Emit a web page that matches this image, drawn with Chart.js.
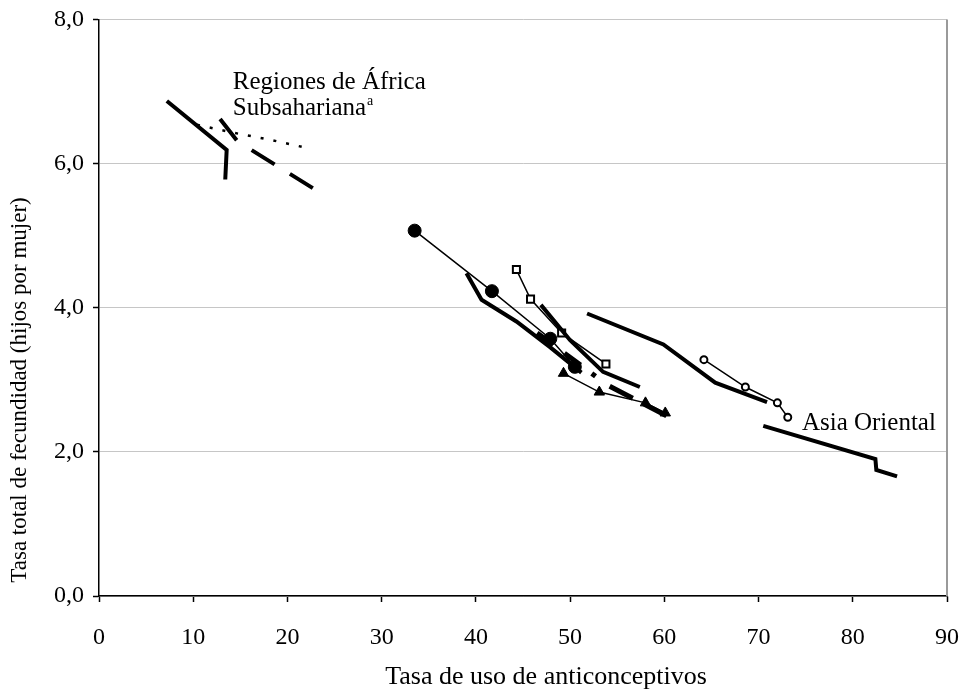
<!DOCTYPE html>
<html>
<head>
<meta charset="utf-8">
<script src="https://cdn.jsdelivr.net/npm/chart.js@4/dist/chart.umd.min.js"></script>
<style>
  html, body { margin: 0; padding: 0; background: #ffffff; }
  #wrap { width: 964px; height: 690px; }
</style>
</head>
<body>
<div id="wrap"><canvas id="c" width="964" height="690"></canvas></div>
<script>
// ---- Data ----
const xTitle = "Tasa de uso de anticonceptivos";
const yTitle = "Tasa total de fecundidad (hijos por mujer)";

// Sub-Saharan Africa regions
const africaSolidX  = [7.2, 13.55, 13.4];
const africaSolidY  = [6.87, 6.19, 5.78];
const africaDottedX = [10.4, 14.2, 18.2, 22.0];
const africaDottedY = [6.54, 6.43, 6.33, 6.22];
const africaDashedX = [12.85, 14.7, 22.7];
const africaDashedY = [6.62, 6.31, 5.66];

// Middle cluster
const circlesX   = [33.5, 41.7, 47.9, 50.5];
const circlesY   = [5.07, 4.23, 3.57, 3.18];
const squaresX   = [44.3, 45.8, 49.1, 53.8];
const squaresY   = [4.53, 4.12, 3.65, 3.22];
const trianglesX = [49.3, 53.1, 58.0, 60.1];
const trianglesY = [3.09, 2.83, 2.68, 2.54];
const thickAX    = [39.0, 40.6, 44.3, 47.9, 51.2];
const thickAY    = [4.48, 4.11, 3.81, 3.45, 3.10];
const thickBX    = [46.9, 50.0, 53.5, 57.4];
const thickBY    = [4.04, 3.55, 3.11, 2.90];
const dashedCX   = [46.5, 52.7];
const dashedCY   = [3.65, 3.05];
const dashedDX   = [54.2, 60.4];
const dashedDY   = [2.91, 2.49];

// East Asia cluster
const thickEX       = [51.8, 59.9, 65.4, 70.9];
const thickEY       = [3.92, 3.49, 2.96, 2.69];
const openCirclesX  = [64.2, 68.6, 72.0, 73.1];
const openCirclesY  = [3.28, 2.90, 2.68, 2.48];
const thickFX       = [70.5, 82.4, 82.5, 84.7];
const thickFY       = [2.36, 1.90, 1.75, 1.66];

// Annotations (data coordinates)
const labelAfrica1 = { text: "Regiones de África", x: 14.2, y: 7.03 };
const labelAfrica2 = { text: "Subsahariana", sup: "a", x: 14.2, y: 6.67 };
const labelAsia    = { text: "Asia Oriental", x: 74.6, y: 2.30 };

const xMin = 0, xMax = 90, xStep = 10;
const yMin = 0, yMax = 8, yStep = 2;

// ---- Build ----
function pts(xs, ys) { return xs.map((x, i) => ({ x: x, y: ys[i] })); }
const FONT = "'Liberation Serif', 'Times New Roman', serif";

function lineDS(xs, ys, width, dash, extra) {
  return Object.assign({
    data: pts(xs, ys),
    showLine: true,
    borderColor: '#000',
    backgroundColor: '#000',
    borderWidth: width,
    borderDash: dash || [],
    borderCapStyle: 'butt',
    borderJoinStyle: 'miter',
    pointRadius: 0,
    pointHoverRadius: 0,
    tension: 0
  }, extra || {});
}

const datasets = [
  lineDS(africaSolidX, africaSolidY, 4),
  lineDS(africaDottedX, africaDottedY, 2.5, [3, 10]),
  lineDS(africaDashedX, africaDashedY, 4, [27, 18]),
  lineDS(thickAX, thickAY, 4),
  lineDS(thickBX, thickBY, 4),
  lineDS(dashedCX, dashedCY, 5, [20, 14]),
  lineDS(dashedDX, dashedDY, 5, [26, 12]),
  lineDS(thickEX, thickEY, 4),
  lineDS(thickFX, thickFY, 4),
  lineDS(circlesX, circlesY, 1.5, [], { pointRadius: 6.5, pointStyle: 'circle', pointBackgroundColor: '#000', pointBorderColor: '#000', pointBorderWidth: 1 }),
  lineDS(squaresX, squaresY, 1.5, [], { pointRadius: 5, pointStyle: 'rect', pointBackgroundColor: '#fff', pointBorderColor: '#000', pointBorderWidth: 2 }),
  lineDS(trianglesX, trianglesY, 1.5, [], { pointRadius: 6, pointStyle: 'triangle', pointBackgroundColor: '#000', pointBorderColor: '#000', pointBorderWidth: 1 }),
  lineDS(openCirclesX, openCirclesY, 1.5, [], { pointRadius: 3.5, pointStyle: 'circle', pointBackgroundColor: '#fff', pointBorderColor: '#000', pointBorderWidth: 2 })
];

const annotate = {
  id: 'annotate',
  afterDraw(chart) {
    const ctx = chart.ctx, xs = chart.scales.x, ys = chart.scales.y, ca = chart.chartArea;
    ctx.save();
    // right frame border of the plot area
    ctx.strokeStyle = '#9a9a9a';
    ctx.lineWidth = 2;
    ctx.beginPath();
    ctx.moveTo(ca.right, ca.top);
    ctx.lineTo(ca.right, ca.bottom);
    ctx.stroke();

    ctx.fillStyle = '#000';
    ctx.textBaseline = 'alphabetic';
    ctx.textAlign = 'left';
    ctx.font = "25px " + FONT;
    ctx.fillText(labelAfrica1.text, xs.getPixelForValue(labelAfrica1.x), ys.getPixelForValue(labelAfrica1.y));
    const sx = xs.getPixelForValue(labelAfrica2.x), sy = ys.getPixelForValue(labelAfrica2.y);
    ctx.fillText(labelAfrica2.text, sx, sy);
    const w = ctx.measureText(labelAfrica2.text).width;
    ctx.font = "14px " + FONT;
    ctx.fillText(labelAfrica2.sup, sx + w + 1, sy - 10);
    ctx.font = "25px " + FONT;
    ctx.fillText(labelAsia.text, xs.getPixelForValue(labelAsia.x), ys.getPixelForValue(labelAsia.y));

    // x-axis title (slightly right of centre, as in the reference)
    ctx.font = "26px " + FONT;
    ctx.textAlign = 'center';
    ctx.textBaseline = 'middle';
    ctx.fillText(xTitle, (ca.left + ca.right) / 2 + 23, 677);

    // y-axis title (placed lower than centre, as in the reference)
    ctx.font = "23px " + FONT;
    ctx.translate(20, ca.bottom - 206);
    ctx.rotate(-Math.PI / 2);
    ctx.fillText(yTitle, 0, 0);
    ctx.restore();
  }
};

new Chart(document.getElementById('c'), {
  type: 'scatter',
  data: { datasets: datasets },
  options: {
    responsive: false,
    animation: false,
    events: [],
    layout: { padding: { left: 0, right: 17, top: 19.5, bottom: 0 } },
    plugins: { legend: { display: false }, tooltip: { enabled: false } },
    scales: {
      x: {
        type: 'linear', min: xMin, max: xMax,
        afterFit(scale) { scale.height = 94; scale.paddingLeft = 0; scale.paddingRight = 0; },
        ticks: { stepSize: xStep, color: '#000', padding: 21, maxRotation: 0, font: { family: FONT, size: 24 } },
        grid: { drawOnChartArea: false, drawTicks: true, tickLength: 6, tickColor: '#000', tickWidth: 1.5 },
        border: { display: true, color: '#000', width: 1.5 },
        title: { display: false }
      },
      y: {
        type: 'linear', min: yMin, max: yMax,
        afterFit(scale) { scale.width = 99; scale.paddingTop = 0; scale.paddingBottom = 0; },
        ticks: { stepSize: yStep, color: '#000', padding: 9, font: { family: FONT, size: 24 },
                 callback: v => v.toFixed(1).replace('.', ',') },
        grid: { color: '#c6c6c6', lineWidth: 1, drawTicks: true, tickLength: 6, tickColor: '#000', tickWidth: 1.5 },
        border: { display: true, color: '#000', width: 1.5 },
        title: { display: false }
      }
    }
  },
  plugins: [annotate]
});
</script>
</body>
</html>
